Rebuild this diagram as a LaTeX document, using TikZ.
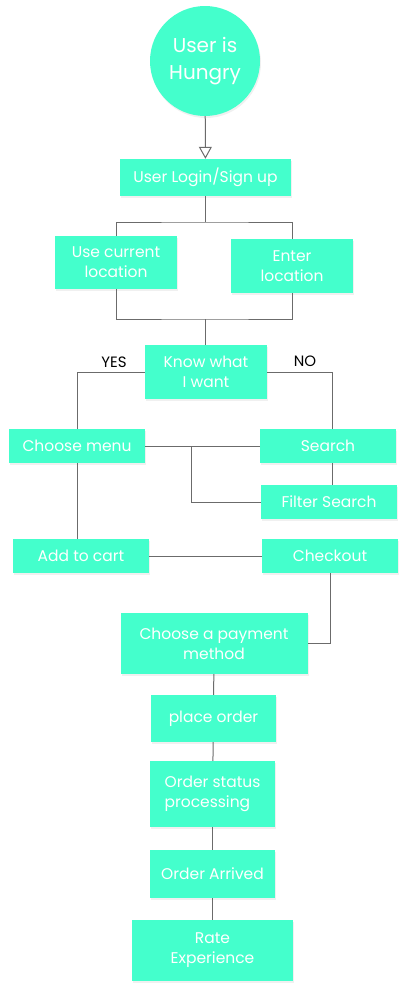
\documentclass[tikz,border=0pt]{standalone}
\usepackage{fontspec}
\setmainfont{Poppins}
\usetikzlibrary{arrows.meta,shadows}
\definecolor{mint}{HTML}{44FFCC}
\definecolor{wire}{HTML}{6B6B6B}

\begin{document}
\begin{tikzpicture}[x=1pt, y=-1pt,
  stepbox/.style={rectangle, fill=mint, text=white, align=center, inner sep=0pt,
    font=\fontsize{15.5}{20}\selectfont,
    drop shadow={opacity=0.12, shadow xshift=1pt, shadow yshift=-2pt}},
  startnode/.style={circle, fill=mint, text=white, align=center, inner sep=0pt,
    minimum size=110pt, font=\fontsize{20}{27}\selectfont,
    drop shadow={opacity=0.12, shadow xshift=1pt, shadow yshift=-2pt}},
  wirel/.style={draw=wire, line width=1pt},
  answer/.style={text=black, font=\fontsize{15}{18}\selectfont}]
\useasboundingbox (0,0) rectangle (407,993);

\node [startnode] (hungry) at (205,61) {User is\\Hungry};
\node [stepbox, minimum width=171pt, minimum height=37pt] (login) at (205.5,177.5) {User Login/Sign up};
\node [stepbox, minimum width=122pt, minimum height=53pt] (usecur) at (116,262.5) {Use current\\location};
\node [stepbox, minimum width=122pt, minimum height=54pt] (enterloc) at (292,266) {Enter\\location};
\node [stepbox, minimum width=122pt, minimum height=54pt] (know) at (206,372) {Know what\\I want};
\node [stepbox, minimum width=136pt, minimum height=34pt] (menu) at (77,446) {Choose menu};
\node [stepbox, minimum width=136pt, minimum height=34pt] (search) at (328,446) {Search};
\node [stepbox, minimum width=136pt, minimum height=34pt] (filter) at (329,502) {Filter Search};
\node [stepbox, minimum width=136pt, minimum height=34pt] (cart) at (81,556) {Add to cart};
\node [stepbox, minimum width=136pt, minimum height=34pt] (checkout) at (330,556) {Checkout};
\node [stepbox, minimum width=187pt, minimum height=61pt] (payment) at (214,643.5) {Choose a payment\\method};
\node [stepbox, minimum width=125pt, minimum height=47pt] (place) at (213.5,718.5) {place order};
\node [stepbox, minimum width=125pt, minimum height=66pt, align=left] (status) at (212.5,794) {Order status\\processing};
\node [stepbox, minimum width=125pt, minimum height=48pt] (arrived) at (212.5,874) {Order Arrived};
\node [stepbox, minimum width=161pt, minimum height=61pt] (rate) at (212.5,950.5) {Rate\\Experience};

\node [answer] (yes) at (114,362) {YES};
\node [answer] (no) at (305,361) {NO};

\coordinate (split) at (205.5,222);
\coordinate (join) at (205.5,319);
\coordinate (branch) at (191,446);

\draw[wirel, -{Triangle[open, width=13pt, length=12pt]}] (hungry) -- (login);
\draw[wirel] (login) -- (split);
\draw[wirel] (usecur.north) |- (split) -| (enterloc.north);
\draw[wirel] (usecur.south) |- (join) -| (enterloc.south);
\draw[wirel] (join) -- (know.north -| join);
\draw[wirel] (know.west) -| (menu.north);
\draw[wirel] (know.east) -| ([xshift=4pt]search.north);
\draw[wirel] (menu.east) -- (search.west);
\draw[wirel] (branch) |- (filter.west);
\draw[wirel] ([xshift=4pt]search.south) -- ([xshift=4pt]search.south |- filter.north);
\draw[wirel] (menu.south) -- (menu.south |- cart.north);
\draw[wirel] (cart.east) -- (checkout.west);
\draw[wirel] (checkout.south) |- (payment.east);
\draw[wirel] (payment) -- (place);
\draw[wirel] (place) -- (status);
\draw[wirel] (status) -- (arrived);
\draw[wirel] (arrived) -- (rate);
\end{tikzpicture}
\end{document}
